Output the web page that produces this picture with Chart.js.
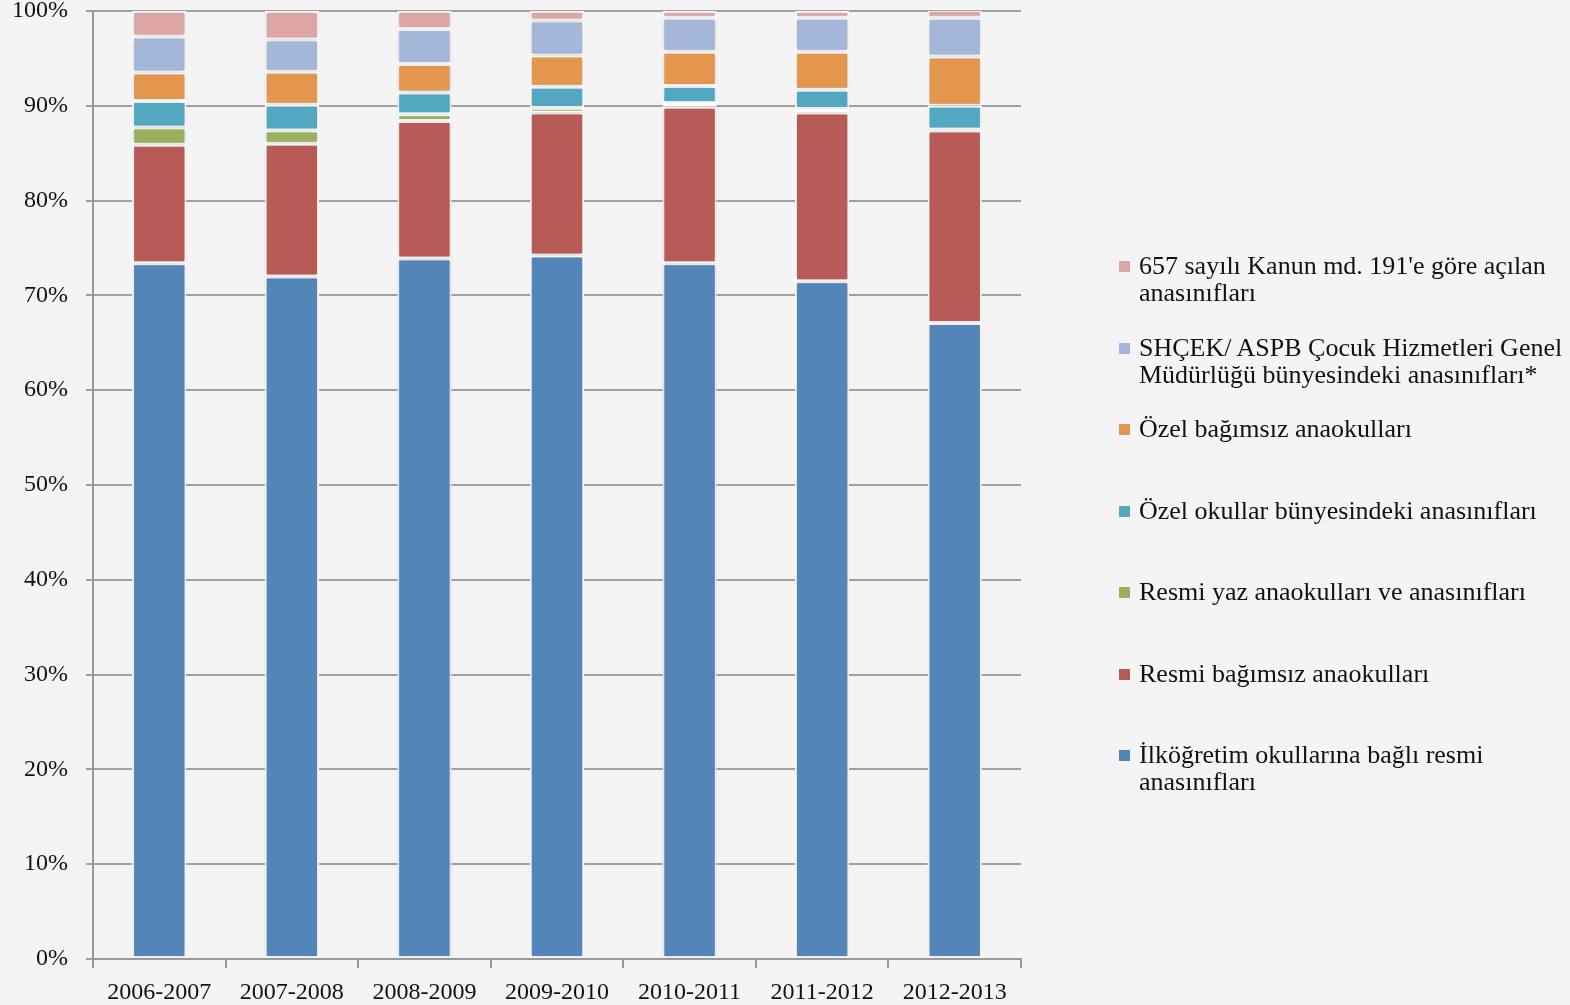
<!DOCTYPE html>
<html>
<head>
<meta charset="utf-8">
<script src="https://cdn.jsdelivr.net/npm/chart.js@4.4.0/dist/chart.umd.min.js"></script>
<style>
    body { margin: 0; background: #f4f4f4; }
    #wrap { position: relative; width: 1570px; height: 1005px; }
    #legend { position: absolute; left: 1119px; top: 252px; font-family: "Liberation Serif", serif; font-size: 26px; color: #111; }
    .item { height: 81.5px; display: flex; align-items: flex-start; }
    .box { width: 11px; height: 11px; margin-top: 9px; margin-right: 9px; flex: none; }
    .txt { line-height: 27px; white-space: pre-line; }
</style>
</head>
<body>
<div id="wrap">
    <canvas id="myChart" width="1570" height="1005"></canvas>
    <div id="legend"></div>
</div>
<script>
const years = ['2006-2007', '2007-2008', '2008-2009', '2009-2010', '2010-2011', '2011-2012', '2012-2013'];

const ilkogretim = [73.4, 72.0, 73.9, 74.2, 73.4, 71.5, 67.1];
const resmiBagimsiz = [12.5, 14.0, 14.5, 15.1, 16.5, 17.8, 20.3];
const resmiYaz = [1.8, 1.4, 0.7, 0.5, 0.4, 0.4, 0.1];
const ozelOkullar = [2.8, 2.7, 2.3, 2.2, 1.8, 2.0, 2.5];
const ozelBagimsiz = [3.0, 3.5, 3.0, 3.3, 3.6, 4.0, 5.2];
const shcek = [3.8, 3.4, 3.7, 3.7, 3.6, 3.6, 4.1];
const kanun657 = [2.7, 3.0, 1.9, 1.0, 0.7, 0.7, 0.8];

const seriesLabels = [
    'İlköğretim okullarına bağlı resmi\nanasınıfları',
    'Resmi bağımsız anaokulları',
    'Resmi yaz anaokulları ve anasınıfları',
    'Özel okullar bünyesindeki anasınıfları',
    'Özel bağımsız anaokulları',
    'SHÇEK/ ASPB Çocuk Hizmetleri Genel\nMüdürlüğü bünyesindeki anasınıfları*',
    "657 sayılı Kanun md. 191'e göre açılan\nanasınıfları"
];
const seriesData = [ilkogretim, resmiBagimsiz, resmiYaz, ozelOkullar, ozelBagimsiz, shcek, kanun657];
const seriesColors = ['#5385b8', '#b85a55', '#9bb05e', '#51a8c0', '#e3964e', '#a4b7d8', '#dca6a4'];

const yTicks = [0, 10, 20, 30, 40, 50, 60, 70, 80, 90, 100];

const font = { family: '"Liberation Serif", serif', size: 24 };

const shadowPlugin = {
    id: 'barShadow',
    beforeDatasetsDraw(chart) {
        const c = chart.ctx;
        c.save();
        c.shadowColor = 'rgba(0,0,0,0.22)';
        c.shadowBlur = 5;
        c.shadowOffsetX = 0;
        c.shadowOffsetY = 0;
    },
    afterDatasetsDraw(chart) {
        chart.ctx.restore();
    }
};

const bgPlugin = {
    id: 'bg',
    beforeDraw(chart) {
        const c = chart.ctx;
        c.save();
        c.fillStyle = '#f4f4f4';
        c.fillRect(0, 0, chart.width, chart.height);
        c.restore();
    }
};

const ctx = document.getElementById('myChart').getContext('2d');
const myChart = new Chart(ctx, {
    type: 'bar',
    data: {
        labels: years,
        datasets: seriesData.map((d, i) => ({
            label: seriesLabels[i],
            data: d,
            backgroundColor: seriesColors[i],
            borderColor: '#ffffff',
            borderWidth: 2,
            borderSkipped: false,
            barPercentage: 0.41,
            categoryPercentage: 1
        }))
    },
    options: {
        responsive: false,
        animation: false,
        devicePixelRatio: 1,
        layout: { padding: { top: 11, right: 549, left: 0, bottom: 0 } },
        plugins: {
            legend: { display: false },
            tooltip: { enabled: false }
        },
        scales: {
            x: {
                stacked: true,
                afterFit(scale) { scale.height = 46; scale.paddingLeft = 0; scale.paddingRight = 0; },
                grid: { drawOnChartArea: false, offset: true, tickLength: 9, color: '#999999', lineWidth: 2 },
                border: { color: '#999999', width: 2 },
                ticks: { font: font, color: '#111', padding: 10, maxRotation: 0 }
            },
            y: {
                stacked: true,
                min: 0,
                max: 100,
                afterFit(scale) { scale.width = 93; scale.paddingTop = 0; scale.paddingBottom = 0; },
                afterBuildTicks(scale) { scale.ticks = yTicks.map(v => ({ value: v })); },
                grid: { color: '#a0a0a0', lineWidth: 2, tickLength: 7 },
                border: { color: '#999999', width: 2 },
                ticks: { font: font, color: '#111', padding: 18, callback: v => v + '%' }
            }
        }
    },
    plugins: [bgPlugin, shadowPlugin]
});

// legend, top entry is the last series
const legendDiv = document.getElementById('legend');
myChart.data.datasets.slice().reverse().forEach(ds => {
    const item = document.createElement('div');
    item.className = 'item';
    const box = document.createElement('span');
    box.className = 'box';
    box.style.background = ds.backgroundColor;
    const txt = document.createElement('span');
    txt.className = 'txt';
    txt.textContent = ds.label;
    item.appendChild(box);
    item.appendChild(txt);
    legendDiv.appendChild(item);
});
</script>
</body>
</html>
